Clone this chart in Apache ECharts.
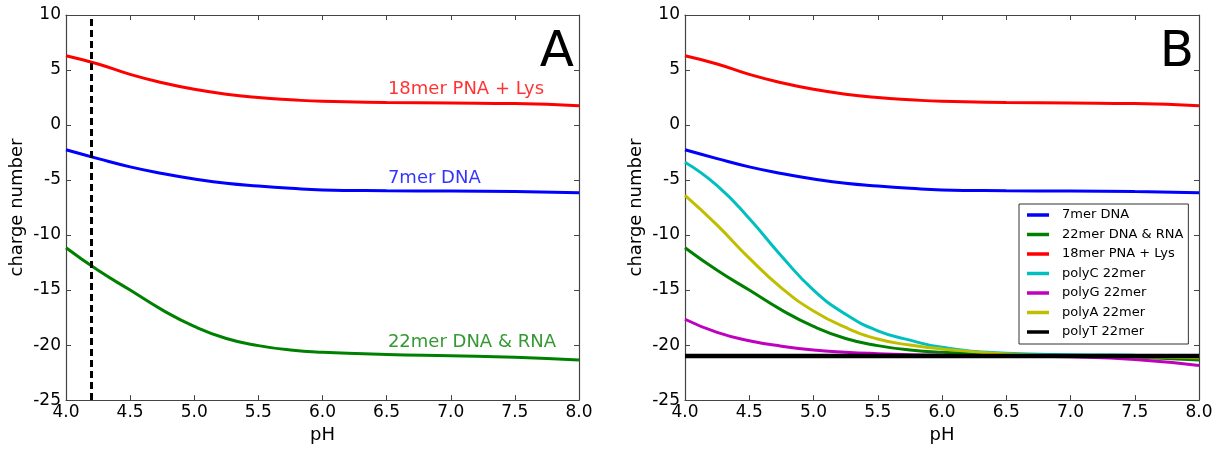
<!DOCTYPE html>
<html><head><meta charset="utf-8">
<script src="https://cdn.jsdelivr.net/npm/echarts@6/dist/echarts.min.js"></script>
<style>html,body{margin:0;padding:0;background:#fff}#c{width:1225px;height:449px}</style>
</head><body><div id="c"></div>
<script>
// ---- data ----
const PH = [4.0, 4.25, 4.5, 4.75, 5.0, 5.25, 5.5, 5.75, 6.0, 6.5, 7.0, 7.5, 8.0];
const DNA7 = [-2.25, -3.05, -3.8, -4.4, -4.9, -5.3, -5.55, -5.75, -5.9, -5.97, -6.0, -6.05, -6.15];
const DNA22 = [-11.15, -13.2, -15.0, -16.8, -18.3, -19.4, -20.05, -20.45, -20.65, -20.85, -20.97, -21.1, -21.35];
const PNA18 = [6.3, 5.55, 4.6, 3.85, 3.25, 2.8, 2.5, 2.3, 2.15, 2.05, 2.0, 1.95, 1.75];
const POLYC = [-3.38, -5.5, -8.5, -11.9, -15.0, -17.2, -18.7, -19.55, -20.2, -20.75, -20.88, -20.92, -20.95];
const POLYG = [-17.65, -18.85, -19.6, -20.1, -20.45, -20.65, -20.78, -20.87, -20.92, -21.0, -21.07, -21.3, -21.85];
const POLYA = [-6.4, -9.1, -12.1, -14.8, -16.9, -18.4, -19.45, -20.0, -20.35, -20.8, -20.97, -21.05, -21.15];
const POLYT = [-21, -21, -21, -21, -21, -21, -21, -21, -21, -21, -21, -21, -21];
const NAMES = ['7mer DNA', '22mer DNA & RNA', '18mer PNA + Lys', 'polyC 22mer', 'polyG 22mer', 'polyA 22mer', 'polyT 22mer'];
const X_RANGE = [4, 8], X_STEP = 0.5;
const Y_RANGE = [-25, 10], Y_STEP = 5;
const DASH_PH = 4.2;
const ANNOT_TEXT = ['18mer PNA + Lys', '7mer DNA', '22mer DNA & RNA'];
const ANNOT_PH = [6.51, 6.51, 6.51];
const ANNOT_VAL = [3.2, -4.85, -19.75];
const PANEL_LETTERS = ['A', 'B'];

// ---- chart ----
const FONT = 'DejaVu Sans';
const COLORS = {'7mer DNA':'#0000ff','22mer DNA & RNA':'#008000','18mer PNA + Lys':'#ff0000',
  'polyC 22mer':'#00bfbf','polyG 22mer':'#bf00bf','polyA 22mer':'#bfbf00','polyT 22mer':'#000000'};
const SERIES_VALS = {'7mer DNA':DNA7,'22mer DNA & RNA':DNA22,'18mer PNA + Lys':PNA18,
  'polyC 22mer':POLYC,'polyG 22mer':POLYG,'polyA 22mer':POLYA,'polyT 22mer':POLYT};
const AXIS_COLOR = '#444';

function xAx(grid, pos, main) {
  return {
    type:'value', gridIndex:grid, position:pos, min:X_RANGE[0], max:X_RANGE[1], interval:X_STEP,
    axisLine:{show:true, onZero:false, lineStyle:{color:AXIS_COLOR, width:1.2}},
    axisTick:{show:true, inside:true, length:5, lineStyle:{color:AXIS_COLOR}},
    axisLabel:{show:main, margin:4, fontSize:17, fontFamily:FONT, color:'#000', formatter:v=>v.toFixed(1)},
    splitLine:{show:false},
    name: main ? 'pH' : '', nameLocation:'middle', nameGap:25,
    nameTextStyle:{fontSize:18, fontFamily:FONT, color:'#000'}
  };
}
function yAx(grid, pos, main) {
  return {
    type:'value', gridIndex:grid, position:pos, min:Y_RANGE[0], max:Y_RANGE[1], interval:Y_STEP,
    axisLine:{show:true, onZero:false, lineStyle:{color:AXIS_COLOR, width:1.2}},
    axisTick:{show:true, inside:true, length:5, lineStyle:{color:AXIS_COLOR}},
    axisLabel:{show:main, margin:5, fontSize:17, fontFamily:FONT, color:'#000'},
    splitLine:{show:false},
    name: main ? 'charge number' : '', nameLocation:'middle', nameGap:40, nameRotate:90,
    nameTextStyle:{fontSize:18, fontFamily:FONT, color:'#000'}
  };
}

function lineSeries(name, xi, yi, extra) {
  const vals = SERIES_VALS[name];
  return Object.assign({
    type:'line', name:name, xAxisIndex:xi, yAxisIndex:yi,
    data: PH.map((x,i)=>[x, vals[i]]),
    showSymbol:false, symbol:'none', smooth:0.5,
    color: COLORS[name],
    lineStyle:{color:COLORS[name], width: name==='polyT 22mer' ? 4.5 : 3},
    silent:true, animation:false
  }, extra||{});
}

const series = [];
// Panel A
['18mer PNA + Lys','7mer DNA','22mer DNA & RNA'].forEach((n,k)=>{
  const extra = k===0 ? {markLine:{silent:true, symbol:['none','none'], label:{show:false},
      lineStyle:{color:'#000', width:3, type:[7,4]}, data:[{xAxis:DASH_PH}]}} : {};
  series.push(lineSeries(n, 0, 0, extra));
});
ANNOT_TEXT.forEach((t,i)=>{
  series.push({type:'scatter', xAxisIndex:0, yAxisIndex:0, symbolSize:0, silent:true, animation:false,
    data:[{value:[ANNOT_PH[i], ANNOT_VAL[i]], name:t}],
    label:{show:true, position:'right', distance:0, formatter:t, fontSize:18, fontFamily:FONT,
      color: COLORS[t]}});
});
// Panel B
NAMES.forEach(n=>series.push(lineSeries(n, 2, 2)));

const option = {
  backgroundColor:'#fff',
  animation:false,
  title:[
    {text:PANEL_LETTERS[0], right:1225-574, top:28, padding:0, textStyle:{fontSize:50, fontWeight:'normal', fontFamily:FONT, color:'#000'}},
    {text:PANEL_LETTERS[1], right:1225-1194, top:28, padding:0, textStyle:{fontSize:50, fontWeight:'normal', fontFamily:FONT, color:'#000'}}
  ],
  grid:[
    {left:66, top:15, width:513, height:388},
    {left:685, top:15, width:514, height:388}
  ],
  xAxis:[xAx(0,'bottom',true), xAx(0,'top',false), xAx(1,'bottom',true), xAx(1,'top',false)],
  yAxis:[yAx(0,'left',true), yAx(0,'right',false), yAx(1,'left',true), yAx(1,'right',false)],
  legend:{
    data:NAMES, orient:'vertical', left:1019, top:204, icon:'rect', itemWidth:22, itemHeight:3.5,
    itemGap:3.5, padding:[3,5,4,8], borderColor:'#333', borderWidth:1, backgroundColor:'#fff',
    selectedMode:false,
    textStyle:{fontSize:13, fontFamily:FONT, color:'#000', lineHeight:16, padding:[0,0,0,8]}
  },
  series: series
};
const chart = echarts.init(document.getElementById('c'), null, {renderer:'canvas'});
chart.setOption(option);
</script>
</body></html>
